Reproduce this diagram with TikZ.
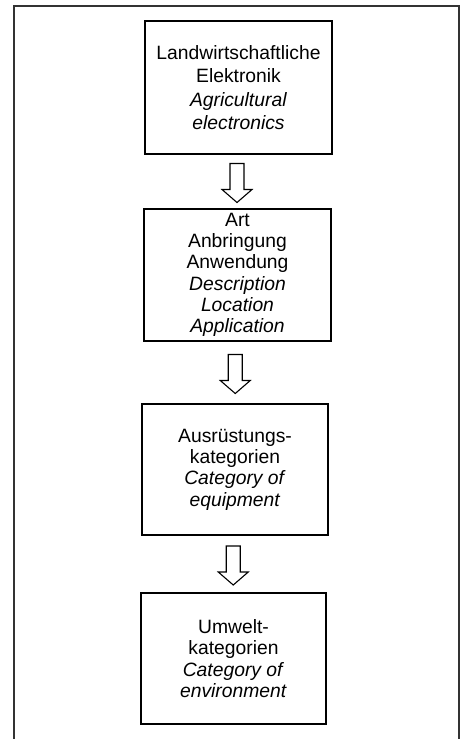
\documentclass[tikz,border=0pt]{standalone}
\usepackage{fontspec}
\setmainfont{Liberation Sans}
\usetikzlibrary{calc}

\newcommand{\hollowarrow}[2]{%
\path ($(#1.south)!0.5!(#2.north)$) coordinate (m);
\draw[hollow] ($(m)+(-8,-18)$) -- ++(0,26) -- ++(-8,0) -- ++(15,13)
    -- ++(15,-13) -- ++(-8,0) -- ++(0,-26) -- cycle;}

\begin{document}
\begin{tikzpicture}[x=1pt,y=-1pt,
    stage/.style={draw,line width=1.4pt,align=center,inner sep=0pt,
        font=\fontsize{19.3}{21.3}\selectfont},
    hollow/.style={draw,line width=1.1pt,line join=miter}]
\useasboundingbox (0,0) rectangle (464,739);
    % outer frame, open at the bottom
\draw[line width=2pt,black!80] (14,739) -- (14,6) -- (459,6) -- (459,739);

\node[stage,minimum width=187pt,minimum height=133pt,
    font=\fontsize{19.3}{23.5}\selectfont] (agri) at (238.5,87.5)
    {Landwirtschaftliche\\Elektronik\\\textit{Agricultural}\\\textit{electronics}};
\node[stage,minimum width=187pt,minimum height=132pt] (desc) at (237.5,275)
    {Art\\Anbringung\\Anwendung\\\textit{Description}\\\textit{Location}\\\textit{Application}};
\node[stage,minimum width=186pt,minimum height=131pt] (equip) at (235,469.5)
    {Ausrüstungs-\\kategorien\\\textit{Category of}\\\textit{equipment}};
\node[stage,minimum width=185pt,minimum height=131pt] (envir) at (233.5,658.5)
    {Umwelt-\\kategorien\\\textit{Category of}\\\textit{environment}};

\hollowarrow{agri}{desc}
\hollowarrow{desc}{equip}
\hollowarrow{equip}{envir}

\end{tikzpicture}
\end{document}
